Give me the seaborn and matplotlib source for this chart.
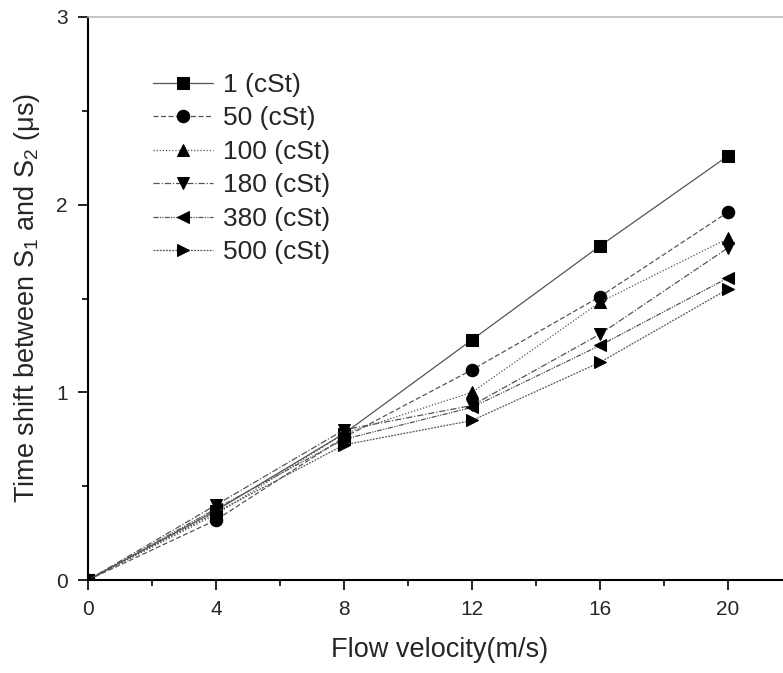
import matplotlib
matplotlib.use("Agg")
import matplotlib.pyplot as plt
import seaborn as sns
import pandas as pd
from matplotlib.ticker import MultipleLocator

velocity = [0, 4, 8, 12, 16, 20]
labels = ["1 (cSt)", "50 (cSt)", "100 (cSt)", "180 (cSt)", "380 (cSt)", "500 (cSt)"]
s1 = [0, 0.37, 0.78, 1.28, 1.78, 2.26]
s50 = [0, 0.32, 0.76, 1.12, 1.51, 1.96]
s100 = [0, 0.35, 0.78, 1.00, 1.48, 1.82]
s180 = [0, 0.40, 0.80, 0.93, 1.31, 1.77]
s380 = [0, 0.38, 0.75, 0.92, 1.25, 1.61]
s500 = [0, 0.36, 0.72, 0.85, 1.16, 1.55]
series = [s1, s50, s100, s180, s380, s500]

markers = ["s", "o", "^", "v", "<", ">"]
linestyles = ["-", (0, (4, 2)), (0, (1, 1.5)), (0, (5, 1.5, 1, 1.5)),
              (0, (4, 1, 1, 1, 1, 1)), (0, (1.5, 1))]

sns.set_style("ticks")
plt.rcParams["font.family"] = ["Liberation Sans", "DejaVu Sans"]
plt.rcParams["mathtext.fontset"] = "custom"
plt.rcParams["mathtext.rm"] = "Liberation Sans"
plt.rcParams["mathtext.it"] = "Liberation Sans:italic"

fig = plt.figure(figsize=(7.83, 6.73), dpi=100)
W, H = 783, 673
x0, x1 = 88, 88 + 22 * 32
y_top, y_bot = 17, 580
ax = fig.add_axes([x0 / W, 1 - y_bot / H, (x1 - x0) / W, (y_bot - y_top) / H])

rows = []
for lab, vals in zip(labels, series):
    for v, t in zip(velocity, vals):
        rows.append({"v": v, "t": t, "s": lab})
df = pd.DataFrame(rows)

for lab, m, ls in zip(labels, markers, linestyles):
    sub = df[df["s"] == lab]
    sns.lineplot(data=sub, x="v", y="t", ax=ax, color="#555555", linewidth=0.9,
                 linestyle=ls, marker=m, markersize=9, markerfacecolor="black",
                 markeredgecolor="black", label=lab)

ax.set_xlim(0, 22)
ax.set_ylim(0, 3)
ax.xaxis.set_major_locator(MultipleLocator(4))
ax.xaxis.set_minor_locator(MultipleLocator(2))
ax.yaxis.set_major_locator(MultipleLocator(1))
ax.yaxis.set_minor_locator(MultipleLocator(0.5))
ax.set_xticks([0, 4, 8, 12, 16, 20])
ax.tick_params(which="major", direction="out", length=7.5, width=1.2, labelsize=15,
               color="black", pad=7)
ax.tick_params(which="minor", direction="out", length=4, width=1.2, color="black")
for sp in ["left", "bottom"]:
    ax.spines[sp].set_linewidth(1.5)
    ax.spines[sp].set_color("black")
ax.spines["top"].set_color("#bbbbbb")
ax.spines["top"].set_linewidth(1.2)
ax.spines["right"].set_visible(False)

ax.set_xlabel("Flow velocity(m/s)", fontsize=19.5, labelpad=13)
ax.set_ylabel("Time shift between S$_1$ and S$_2$ (μs)", fontsize=19.5, labelpad=10)

leg = ax.legend(loc="upper left", bbox_to_anchor=(0.058, 0.943), frameon=False,
                fontsize=19, handlelength=2.3, handletextpad=0.35, labelspacing=0.36)

fig.savefig("out.png", dpi=100)
